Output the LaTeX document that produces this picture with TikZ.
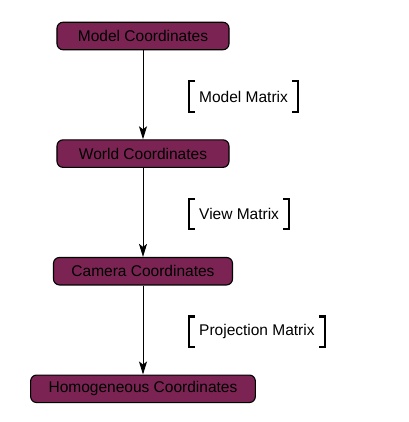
\documentclass[tikz,border=0pt]{standalone}
\usepackage{fontspec}
\setmainfont{Liberation Sans}
\usepackage{tikz}
\usetikzlibrary{arrows.meta,positioning,calc}
\definecolor{boxpurple}{HTML}{7B2453}

\begin{document}
\begin{tikzpicture}[x=1bp,y=1bp,>={Stealth[length=13bp,width=8bp,inset=3bp]},node distance=89bp]
\tikzstyle{coord}=[draw,line width=1.1bp,rounded corners=6bp,fill=boxpurple,minimum width=172bp,minimum height=27.5bp,inner xsep=18bp,inner ysep=2bp,font=\fontsize{15.5bp}{18bp}\selectfont]
\tikzstyle{matrixlbl}=[anchor=west,minimum height=30bp,inner xsep=10bp,font=\fontsize{15.5bp}{18bp}\selectfont]
\tikzstyle{bracket}=[line width=2.2bp]
\useasboundingbox (0,0) rectangle (409,422);
\node[coord] (model) at (143,386) {Model Coordinates};
\node[coord,below=of model] (world) {World Coordinates};
\node[coord,below=of world] (camera) {Camera Coordinates};
\node[coord,below=of camera] (homog) {Homogeneous Coordinates};
\draw[->,line width=0.9bp] (model) -- (world);
\draw[->,line width=0.9bp] (world) -- (camera);
\draw[->,line width=0.9bp] (camera) -- (homog);
% matrix labels with square brackets
\node[matrixlbl] (mm) at ($(model.south)!0.52!(world.north)+(46,0)$) {Model Matrix};
\node[matrixlbl] (vm) at ($(world.south)!0.52!(camera.north)+(46,0)$) {View Matrix};
\node[matrixlbl] (pm) at ($(camera.south)!0.52!(homog.north)+(46,0)$) {Projection Matrix};
\foreach \n in {mm,vm,pm}{
    \draw[bracket] ([xshift=6bp]\n.north west) -- (\n.north west) -- (\n.south west) -- ([xshift=6bp]\n.south west);
    \draw[bracket] ([xshift=-6bp]\n.north east) -- (\n.north east) -- (\n.south east) -- ([xshift=-6bp]\n.south east);
}
\end{tikzpicture}
\end{document}
